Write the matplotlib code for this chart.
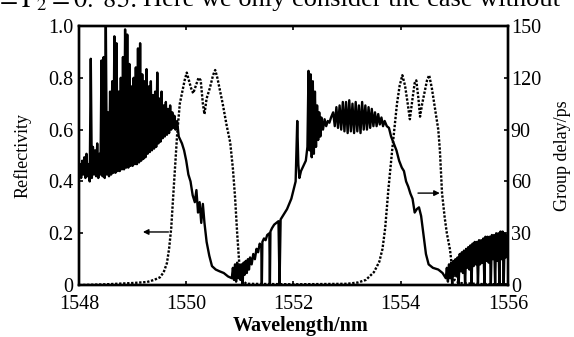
import numpy as np
import matplotlib.pyplot as plt

plt.rcParams['font.family'] = ['Liberation Serif', 'DejaVu Serif']
plt.rcParams['mathtext.fontset'] = 'stix'

# reflectivity (left axis)
wl_r = [1548.0, 1548.5, 1549.0, 1549.27, 1549.4, 1549.51, 1549.58, 1549.64, 1549.68, 1549.72,
        1549.75, 1549.79, 1549.83, 1549.88, 1549.93, 1549.97, 1550.01, 1550.05, 1550.09, 1550.13,
        1550.18, 1550.23, 1550.27, 1550.31, 1550.34, 1550.38, 1550.44, 1550.5, 1550.54, 1550.58,
        1550.63, 1550.68, 1550.75, 1550.82, 1550.87, 1550.91, 1550.95, 1550.99, 1551.04, 1551.12,
        1551.6, 1552.0, 1552.5, 1553.0, 1553.2, 1553.35, 1553.5, 1553.6, 1553.66, 1553.71,
        1553.77, 1553.84, 1553.93, 1553.98, 1554.03, 1554.08, 1554.13, 1554.17, 1554.22, 1554.26,
        1554.29, 1554.33, 1554.36, 1554.4, 1554.44, 1554.49, 1554.53, 1554.58, 1554.64, 1554.7,
        1554.73, 1554.77, 1554.82, 1554.86, 1554.92, 1554.96, 1555.0, 1555.1, 1555.5, 1556.0]
refl = [0.0, 0.003, 0.008, 0.012, 0.02, 0.03, 0.05, 0.085, 0.14, 0.22,
        0.32, 0.45, 0.58, 0.70, 0.75, 0.79, 0.82, 0.79, 0.76, 0.74,
        0.77, 0.80, 0.79, 0.70, 0.66, 0.72, 0.76, 0.81, 0.83, 0.80,
        0.75, 0.70, 0.62, 0.55, 0.45, 0.34, 0.20, 0.08, 0.02, 0.005,
        0.004, 0.003, 0.004, 0.005, 0.01, 0.02, 0.05, 0.09, 0.14, 0.22,
        0.37, 0.52, 0.70, 0.77, 0.81, 0.77, 0.70, 0.64, 0.72, 0.78,
        0.79, 0.72, 0.65, 0.70, 0.74, 0.79, 0.81, 0.76, 0.68, 0.60,
        0.52, 0.355, 0.26, 0.20, 0.135, 0.06, 0.02, 0.008, 0.004, 0.003]

# group delay in ps (right axis)
wl_d = [1548.0, 1548.02, 1548.04, 1548.06, 1548.08, 1548.1, 1548.12, 1548.14, 1548.16, 1548.18,
        1548.2, 1548.22, 1548.24, 1548.26, 1548.28, 1548.3, 1548.32, 1548.34, 1548.36, 1548.38,
        1548.4, 1548.42, 1548.44, 1548.46, 1548.48, 1548.5, 1548.52, 1548.54, 1548.56, 1548.58,
        1548.6, 1548.62, 1548.64, 1548.66, 1548.68, 1548.7, 1548.72, 1548.74, 1548.76, 1548.78,
        1548.8, 1548.82, 1548.84, 1548.86, 1548.88, 1548.9, 1548.92, 1548.94, 1548.96, 1548.98,
        1549.0, 1549.02, 1549.04, 1549.06, 1549.08, 1549.1, 1549.12, 1549.14, 1549.16, 1549.18,
        1549.2, 1549.22, 1549.24, 1549.26, 1549.28, 1549.3, 1549.32, 1549.34, 1549.36, 1549.38,
        1549.4, 1549.42, 1549.44, 1549.46, 1549.48, 1549.5, 1549.52, 1549.54, 1549.56, 1549.58,
        1549.6, 1549.62, 1549.64, 1549.66, 1549.68, 1549.7, 1549.72, 1549.74, 1549.76, 1549.78,
        1549.8, 1549.83, 1549.86, 1549.92, 1549.96, 1550.0, 1550.04, 1550.08, 1550.12, 1550.16,
        1550.19, 1550.22, 1550.25, 1550.28, 1550.31, 1550.34, 1550.38, 1550.43, 1550.48, 1550.55,
        1550.62, 1550.7, 1550.78, 1550.85, 1550.87, 1550.89, 1550.91, 1550.93, 1550.95, 1550.97,
        1550.99, 1551.01, 1551.03, 1551.05, 1551.07, 1551.09, 1551.11, 1551.13, 1551.15, 1551.17,
        1551.19, 1551.22, 1551.25, 1551.28, 1551.31, 1551.34, 1551.37, 1551.4, 1551.41, 1551.42,
        1551.45, 1551.48, 1551.51, 1551.55, 1551.56, 1551.57, 1551.6, 1551.64, 1551.68, 1551.72,
        1551.74, 1551.76, 1551.8, 1551.84, 1551.88, 1551.92, 1551.96, 1552.0, 1552.04, 1552.07,
        1552.09, 1552.11, 1552.14, 1552.17, 1552.2, 1552.23, 1552.26, 1552.28, 1552.3, 1552.32,
        1552.34, 1552.36, 1552.38, 1552.4, 1552.42, 1552.44, 1552.46, 1552.48, 1552.5, 1552.52,
        1552.55, 1552.58, 1552.61, 1552.64, 1552.67, 1552.7, 1552.74, 1552.77, 1552.8, 1552.83,
        1552.86, 1552.89, 1552.92, 1552.95, 1552.98, 1553.01, 1553.04, 1553.07, 1553.1, 1553.13,
        1553.16, 1553.19, 1553.22, 1553.25, 1553.28, 1553.31, 1553.34, 1553.37, 1553.4, 1553.43,
        1553.46, 1553.49, 1553.52, 1553.55, 1553.58, 1553.61, 1553.64, 1553.67, 1553.7, 1553.74,
        1553.78, 1553.82, 1553.87, 1553.92, 1553.97, 1554.02, 1554.06, 1554.1, 1554.14, 1554.18,
        1554.22, 1554.26, 1554.3, 1554.34, 1554.38, 1554.42, 1554.47, 1554.52, 1554.6, 1554.7,
        1554.78, 1554.84, 1554.86, 1554.88, 1554.9, 1554.92, 1554.94, 1554.96, 1554.98, 1555.0,
        1555.02, 1555.04, 1555.06, 1555.08, 1555.1, 1555.12, 1555.14, 1555.16, 1555.18, 1555.2,
        1555.22, 1555.24, 1555.26, 1555.28, 1555.3, 1555.32, 1555.34, 1555.36, 1555.38, 1555.4,
        1555.42, 1555.44, 1555.46, 1555.48, 1555.5, 1555.52, 1555.54, 1555.56, 1555.58, 1555.6,
        1555.62, 1555.64, 1555.66, 1555.68, 1555.7, 1555.72, 1555.74, 1555.76, 1555.78, 1555.8,
        1555.82, 1555.84, 1555.86, 1555.88, 1555.9, 1555.92, 1555.94, 1555.96, 1555.98, 1556.0]
delay = [63, 70, 62, 72, 64, 74, 62, 76, 63, 70,
         60, 131, 62, 80, 64, 78, 63, 82, 62, 76,
         64, 130, 63, 132, 62, 155, 64, 100, 63, 112,
         64, 118, 65, 144, 65, 140, 66, 112, 66, 120,
         67, 132, 67, 148, 68, 145, 68, 128, 69, 115,
         69, 120, 70, 126, 70, 137, 71, 140, 72, 122,
         73, 118, 74, 125, 76, 115, 77, 118, 78, 110,
         79, 112, 80, 123, 82, 108, 83, 112, 85, 104,
         86, 106, 87, 102, 88, 104, 90, 100, 91, 98,
         90, 95, 86, 82, 78, 72, 64, 60, 52, 48,
         55, 42, 48, 36, 47, 36, 25, 17, 11, 9,
         8, 7, 5, 4, 10, 3, 12, 2, 13, 4,
         11, 3, 12, 0, 13, 6, 14, 7, 15, 9,
         16, 12, 18, 15, 21, 19, 24, 22, 0, 25,
         27, 26, 29, 30, 0, 31, 33, 35, 36, 37,
         0, 38, 40, 42, 44, 47, 50, 55, 60, 95,
         70, 62, 66, 68, 70, 72, 80, 124, 78, 122,
         74, 118, 76, 112, 80, 104, 84, 100, 86, 97,
         90, 96, 92, 95, 94, 97, 100, 92, 103, 91,
         104, 90, 106, 89, 106, 88, 107, 89, 105, 88,
         106, 89, 104, 88, 106, 90, 104, 90, 103, 91,
         102, 92, 100, 92, 99, 93, 97, 92, 95, 92,
         91, 86, 82, 78, 72, 68, 66, 60, 57, 53,
         50, 42, 44, 45, 40, 30, 18, 12, 10, 9,
         7, 4, 10, 2, 12, 4, 13, 0, 14, 6,
         15, 5, 16, 0, 18, 8, 19, 7, 20, 0,
         21, 10, 22, 9, 23, 0, 24, 11, 25, 12,
         25, 0, 26, 12, 26, 13, 27, 0, 28, 14,
         28, 13, 28, 0, 29, 15, 29, 0, 30, 14,
         30, 0, 31, 15, 31, 0, 30, 16, 29, 28]

fig = plt.figure(figsize=(5.74, 3.37), dpi=100)
ax = fig.add_axes([0.1376, 0.154, 0.7474, 0.769])
ax2 = ax.twinx()

ax.plot(wl_r, refl, color='k', linestyle=(0, (1, 0.7)), linewidth=1.7)
ax2.plot(wl_d, delay, color='k', linewidth=1.7)

ax.set_xlim(1548, 1556)
ax.set_ylim(0, 1.0)
ax2.set_ylim(0, 150)
ax.set_xticks([1548, 1550, 1552, 1554, 1556])
ax.set_yticks([0, 0.2, 0.4, 0.6, 0.8, 1.0])
ax.set_yticklabels(['0', '0.2', '0.4', '0.6', '0.8', '1.0'])
ax2.set_yticks([0, 30, 60, 90, 120, 150])

ax.tick_params(axis='x', direction='in', top=True, length=3, width=1.2, labelsize=14.5, pad=7)
ax.tick_params(axis='y', direction='in', length=3, width=1.2, labelsize=14.5, pad=4)
ax2.tick_params(axis='y', direction='in', length=3, width=1.2, labelsize=14.5, pad=2)
for a in (ax, ax2):
    for s in a.spines.values():
        s.set_linewidth(1.7)

ax.set_xlabel('Wavelength/nm', fontsize=14.5, fontweight='bold')
ax.xaxis.set_label_coords(0.517, -0.12)
ax.set_ylabel('Reflectivity', fontsize=13, labelpad=12)
ax2.set_ylabel('Group delay/ps', fontsize=13, labelpad=9)

ax.annotate('', xy=(1549.14, 0.205), xytext=(1549.72, 0.205),
            arrowprops=dict(arrowstyle='-|>', color='k', lw=1.0, mutation_scale=8))
ax.annotate('', xy=(1554.78, 0.355), xytext=(1554.27, 0.355),
            arrowprops=dict(arrowstyle='-|>', color='k', lw=1.0, mutation_scale=8))

# bottom edge of the paper text above the figure
fig.text(137 / 574, 1.0, r'$\Gamma_1 = \Gamma_2 = 0.\ 85$:', fontsize=19, va='center', ha='right')
fig.text(143 / 574, 1.0, 'Here we only consider the case without', fontsize=19, va='center', ha='left')

fig.savefig('out.png', dpi=100)
